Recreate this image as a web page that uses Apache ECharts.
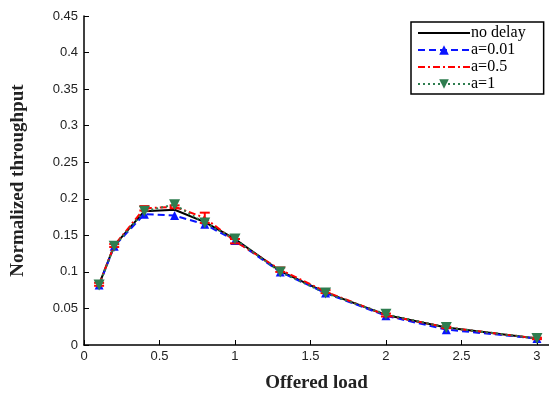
<!DOCTYPE html>
<html>
<head>
<meta charset="utf-8">
<script src="https://cdn.jsdelivr.net/npm/echarts@6/dist/echarts.min.js"></script>
<style>
  html, body { margin: 0; padding: 0; background: #fff; }
  #chart { width: 549px; height: 398px; }
</style>
</head>
<body>
<div id="chart"></div>
<script>
const offeredLoad = [0.1, 0.2, 0.4, 0.6, 0.8, 1.0, 1.3, 1.6, 2.0, 2.4, 3.0]
const noDelay = [0.083, 0.136, 0.183, 0.185, 0.168, 0.145, 0.101, 0.072, 0.041, 0.024, 0.009]
const a001 = [0.082, 0.135, 0.179, 0.177, 0.165, 0.143, 0.100, 0.071, 0.040, 0.021, 0.009]
const a05 = [0.083, 0.136, 0.187, 0.189, 0.174, 0.142, 0.103, 0.073, 0.041, 0.024, 0.009]
const a1 = [0.082, 0.135, 0.183, 0.192, 0.167, 0.145, 0.100, 0.071, 0.042, 0.024, 0.009]
const a05Err = [0.002, 0.002, 0.003, 0.002, 0.007, 0.003, 0.003, 0.002, 0.002, 0.001, 0.001]

const pairs = ys => offeredLoad.map((x, i) => [x, ys[i]])

const chart = echarts.init(document.getElementById('chart'), null, { renderer: 'canvas' })

const tickFont = { color: '#222', fontFamily: 'Liberation Sans, Arial, sans-serif', fontSize: 13 }
const titleFont = { color: '#222', fontFamily: 'Liberation Serif, Times New Roman, serif', fontSize: 19, fontWeight: 'bold' }

chart.setOption({
  animation: false,
  backgroundColor: '#fff',
  grid: { left: 84, right: 0, top: 16, bottom: 44 },
  legend: {
    left: 411,
    top: 22,
    orient: 'vertical',
    itemWidth: 52,
    itemHeight: 12,
    itemGap: 1,
    padding: [3, 18, 2, 6],
    borderColor: '#000',
    borderWidth: 1.5,
    backgroundColor: '#fff',
    textStyle: { color: '#000', fontFamily: 'Liberation Serif, Times New Roman, serif', fontSize: 16, padding: [0, 0, 0, -4] },
    data: [
      { name: 'no delay', itemStyle: { opacity: 0 } },
      { name: 'a=0.01' },
      { name: 'a=0.5', itemStyle: { opacity: 0 } },
      { name: 'a=1' },
    ],
  },
  xAxis: {
    type: 'value',
    min: 0,
    max: 3.08,
    interval: 0.5,
    name: 'Offered load',
    nameLocation: 'middle',
    nameGap: 29,
    nameTextStyle: titleFont,
    axisLine: { lineStyle: { color: '#000', width: 1.5 } },
    axisTick: { inside: true, length: 5, lineStyle: { color: '#000' } },
    axisLabel: { ...tickFont, margin: 5, showMaxLabel: false },
    splitLine: { show: false },
  },
  yAxis: {
    type: 'value',
    min: 0,
    max: 0.45,
    interval: 0.05,
    name: 'Normalized throughput',
    nameLocation: 'middle',
    nameGap: 56,
    nameTextStyle: titleFont,
    axisLine: { show: true, lineStyle: { color: '#000', width: 1.5 } },
    axisTick: { show: true, inside: true, length: 5, lineStyle: { color: '#000' } },
    axisLabel: { ...tickFont, margin: 6, formatter: v => String(+v.toFixed(2)) },
    splitLine: { show: false },
  },
  series: [
    {
      name: 'no delay',
      type: 'line',
      data: pairs(noDelay),
      symbol: 'none',
      lineStyle: { color: '#000', width: 2 },
      itemStyle: { color: '#000' },
      z: 2,
    },
    {
      name: 'a=0.01',
      type: 'line',
      data: pairs(a001),
      symbol: 'triangle',
      symbolSize: 9,
      lineStyle: { color: '#0a14ff', width: 2, type: [7, 4] },
      itemStyle: { color: '#0a14ff' },
      z: 3,
    },
    {
      name: 'a=0.5',
      type: 'line',
      data: pairs(a05),
      symbol: 'none',
      lineStyle: { color: '#ff0000', width: 2, type: [7, 3, 2, 3] },
      itemStyle: { color: '#ff0000' },
      z: 4,
    },
    {
      name: 'a05err',
      type: 'custom',
      data: offeredLoad.map((x, i) => [x, a05[i] - a05Err[i], a05[i] + a05Err[i]]),
      renderItem: (params, api) => {
        const lo = api.coord([api.value(0), api.value(1)])
        const hi = api.coord([api.value(0), api.value(2)])
        const w = 5
        const st = { stroke: '#ff0000', lineWidth: 2 }
        return {
          type: 'group',
          children: [
            { type: 'line', shape: { x1: lo[0], y1: lo[1], x2: hi[0], y2: hi[1] }, style: st },
            { type: 'line', shape: { x1: lo[0] - w, y1: lo[1], x2: lo[0] + w, y2: lo[1] }, style: st },
            { type: 'line', shape: { x1: hi[0] - w, y1: hi[1], x2: hi[0] + w, y2: hi[1] }, style: st },
          ],
        }
      },
      z: 4,
    },
    {
      name: 'a=1',
      type: 'line',
      data: pairs(a1),
      symbol: 'triangle',
      symbolRotate: 180,
      symbolSize: 11,
      lineStyle: { color: '#2e7d4f', width: 2, type: [2, 3] },
      itemStyle: { color: '#2e7d4f' },
      z: 5,
    },
  ],
})
</script>
</body>
</html>
